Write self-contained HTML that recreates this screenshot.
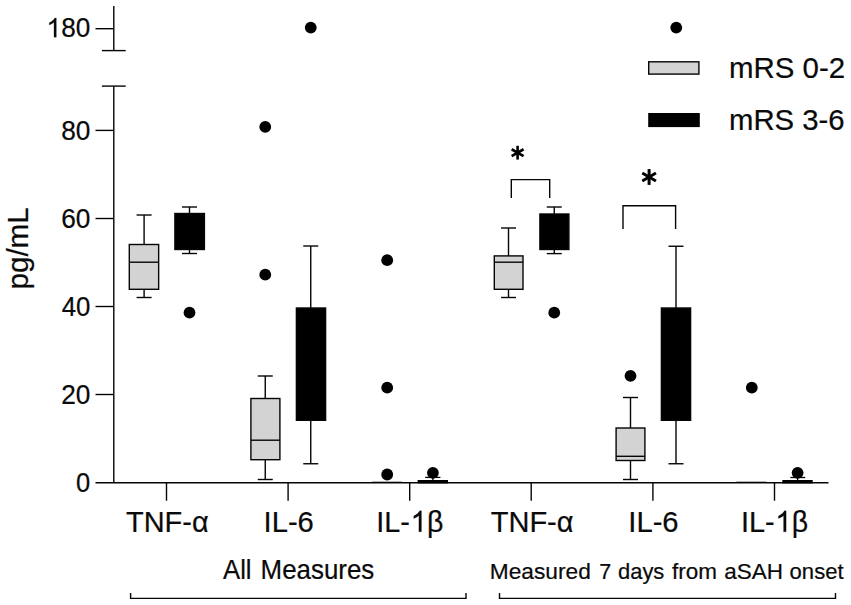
<!DOCTYPE html>
<html><head><meta charset="utf-8"><title>Boxplot</title>
<style>
html,body{margin:0;padding:0;background:#fff;}
svg{display:block;}
text{font-family:"Liberation Sans",sans-serif;fill:#0a0a0a;stroke:#0a0a0a;stroke-width:0.22px;}
</style></head>
<body>
<svg width="851" height="605" viewBox="0 0 851 605">
<rect width="851" height="605" fill="#fff"/>
<text transform="translate(61.25,37.2) scale(0.9517,1)" font-size="27.5">80</text>
<text transform="translate(61.24,139.9) scale(0.9552,1)" font-size="27.5">80</text>
<text transform="translate(61.24,227.9) scale(0.9552,1)" font-size="27.5">60</text>
<text transform="translate(61.75,315.7) scale(0.9383,1)" font-size="27.5">40</text>
<text transform="translate(61.24,403.9) scale(0.9552,1)" font-size="27.5">20</text>
<text transform="translate(75.97,491.7) scale(0.9286,1)" font-size="27.5">0</text>
<text transform="translate(126.00,531.8) scale(0.9558,1)" font-size="30.3">TNF-α</text>
<text transform="translate(263.57,531.8) scale(0.9633,1)" font-size="30.3">IL-6</text>
<text transform="translate(376.30,531.8) scale(0.9515,1)" font-size="30.3">IL-</text>
<text transform="translate(427.12,531.8) scale(0.9400,1)" font-size="30.3">β</text>
<text transform="translate(490.70,531.8) scale(0.9581,1)" font-size="30.3">TNF-α</text>
<text transform="translate(628.27,531.8) scale(0.9643,1)" font-size="30.3">IL-6</text>
<text transform="translate(741.00,531.8) scale(0.9515,1)" font-size="30.3">IL-</text>
<text transform="translate(791.82,531.8) scale(0.9400,1)" font-size="30.3">β</text>
<text transform="translate(728.99,78.4) scale(1.0080,1)" font-size="29.2">mRS 0-2</text>
<text transform="translate(729.00,130.0) scale(1.0035,1)" font-size="29.2">mRS 3-6</text>
<text transform="translate(223.00,579.0) scale(0.9517,1)" font-size="27.0">All</text>
<text transform="translate(260.58,579.0) scale(0.9595,1)" font-size="27.0">Measures</text>
<text transform="translate(489.80,579.0) scale(0.9970,1)" font-size="22.8">Measured</text>
<text transform="translate(599.15,579.0) scale(0.9455,1)" font-size="22.8">7</text>
<text transform="translate(618.00,579.0) scale(0.9625,1)" font-size="22.8">days</text>
<text transform="translate(672.10,579.0) scale(0.9867,1)" font-size="22.8">from</text>
<text transform="translate(724.35,579.0) scale(0.9871,1)" font-size="22.8">aSAH</text>
<text transform="translate(789.60,579.0) scale(0.9679,1)" font-size="22.8">onset</text>
<path transform="translate(46.37,37.2) scale(0.01304)" fill="#0a0a0a" stroke="#0a0a0a" stroke-width="16.9" d="M763,0H583V-1147Q518,-1085 412.5,-1023Q307,-961 223,-930V-1104Q374,-1175 487,-1276Q600,-1377 647,-1472H763Z"/>
<path transform="translate(410.57,531.8) scale(0.01426)" fill="#0a0a0a" stroke="#0a0a0a" stroke-width="15.4" d="M763,0H583V-1147Q518,-1085 412.5,-1023Q307,-961 223,-930V-1104Q374,-1175 487,-1276Q600,-1377 647,-1472H763Z"/>
<path transform="translate(775.27,531.8) scale(0.01426)" fill="#0a0a0a" stroke="#0a0a0a" stroke-width="15.4" d="M763,0H583V-1147Q518,-1085 412.5,-1023Q307,-961 223,-930V-1104Q374,-1175 487,-1276Q600,-1377 647,-1472H763Z"/>
<line x1="113.8" y1="6" x2="113.8" y2="50.6" stroke="#050505" stroke-width="1.4" stroke-linecap="butt"/>
<line x1="113.8" y1="86.1" x2="113.8" y2="482.8" stroke="#050505" stroke-width="1.4" stroke-linecap="butt"/>
<line x1="101.9" y1="50.6" x2="125.7" y2="50.6" stroke="#050505" stroke-width="1.4" stroke-linecap="butt"/>
<line x1="101.9" y1="86.1" x2="125.7" y2="86.1" stroke="#050505" stroke-width="1.4" stroke-linecap="butt"/>
<line x1="95.5" y1="28.7" x2="113.8" y2="28.7" stroke="#050505" stroke-width="1.4" stroke-linecap="butt"/>
<line x1="95.5" y1="130.4" x2="113.8" y2="130.4" stroke="#050505" stroke-width="1.4" stroke-linecap="butt"/>
<line x1="95.5" y1="218.5" x2="113.8" y2="218.5" stroke="#050505" stroke-width="1.4" stroke-linecap="butt"/>
<line x1="95.5" y1="306.5" x2="113.8" y2="306.5" stroke="#050505" stroke-width="1.4" stroke-linecap="butt"/>
<line x1="95.5" y1="394.5" x2="113.8" y2="394.5" stroke="#050505" stroke-width="1.4" stroke-linecap="butt"/>
<line x1="95.5" y1="482.8" x2="828.5" y2="482.8" stroke="#050505" stroke-width="1.4" stroke-linecap="butt"/>
<line x1="166.5" y1="482.8" x2="166.5" y2="500.7" stroke="#050505" stroke-width="1.4" stroke-linecap="butt"/>
<line x1="288.1" y1="482.8" x2="288.1" y2="500.7" stroke="#050505" stroke-width="1.4" stroke-linecap="butt"/>
<line x1="409.7" y1="482.8" x2="409.7" y2="500.7" stroke="#050505" stroke-width="1.4" stroke-linecap="butt"/>
<line x1="531.2" y1="482.8" x2="531.2" y2="500.7" stroke="#050505" stroke-width="1.4" stroke-linecap="butt"/>
<line x1="652.9" y1="482.8" x2="652.9" y2="500.7" stroke="#050505" stroke-width="1.4" stroke-linecap="butt"/>
<line x1="774.5" y1="482.8" x2="774.5" y2="500.7" stroke="#050505" stroke-width="1.4" stroke-linecap="butt"/>
<line x1="144.1" y1="215.0" x2="144.1" y2="244.5" stroke="#050505" stroke-width="1.4" stroke-linecap="butt"/>
<line x1="136.6" y1="215.0" x2="151.6" y2="215.0" stroke="#050505" stroke-width="1.4" stroke-linecap="butt"/>
<line x1="144.1" y1="289.3" x2="144.1" y2="297.5" stroke="#050505" stroke-width="1.4" stroke-linecap="butt"/>
<line x1="136.6" y1="297.5" x2="151.6" y2="297.5" stroke="#050505" stroke-width="1.4" stroke-linecap="butt"/>
<rect x="129.3" y="244.5" width="29.35" height="44.80" fill="#d3d3d3" stroke="#050505" stroke-width="1.4"/>
<line x1="129.3" y1="262.2" x2="158.65" y2="262.2" stroke="#050505" stroke-width="1.4" stroke-linecap="butt"/>
<line x1="189.5" y1="207.0" x2="189.5" y2="213.5" stroke="#050505" stroke-width="1.4" stroke-linecap="butt"/>
<line x1="182.0" y1="207.0" x2="197.0" y2="207.0" stroke="#050505" stroke-width="1.4" stroke-linecap="butt"/>
<line x1="189.5" y1="249.5" x2="189.5" y2="253.5" stroke="#050505" stroke-width="1.4" stroke-linecap="butt"/>
<line x1="182.0" y1="253.5" x2="197.0" y2="253.5" stroke="#050505" stroke-width="1.4" stroke-linecap="butt"/>
<rect x="174.9" y="213.5" width="29.50" height="36.00" fill="#000" stroke="#050505" stroke-width="1.4"/>
<circle cx="189.5" cy="312.7" r="5.9" fill="#000"/>
<line x1="265.25" y1="376.0" x2="265.25" y2="398.5" stroke="#050505" stroke-width="1.4" stroke-linecap="butt"/>
<line x1="257.75" y1="376.0" x2="272.75" y2="376.0" stroke="#050505" stroke-width="1.4" stroke-linecap="butt"/>
<line x1="265.25" y1="459.7" x2="265.25" y2="479.5" stroke="#050505" stroke-width="1.4" stroke-linecap="butt"/>
<line x1="257.75" y1="479.5" x2="272.75" y2="479.5" stroke="#050505" stroke-width="1.4" stroke-linecap="butt"/>
<rect x="250.9" y="398.5" width="29.00" height="61.20" fill="#d3d3d3" stroke="#050505" stroke-width="1.4"/>
<line x1="250.9" y1="440.2" x2="279.9" y2="440.2" stroke="#050505" stroke-width="1.4" stroke-linecap="butt"/>
<circle cx="265.25" cy="126.9" r="5.9" fill="#000"/>
<circle cx="265.25" cy="274.7" r="5.9" fill="#000"/>
<line x1="310.75" y1="246.0" x2="310.75" y2="308" stroke="#050505" stroke-width="1.4" stroke-linecap="butt"/>
<line x1="303.25" y1="246.0" x2="318.25" y2="246.0" stroke="#050505" stroke-width="1.4" stroke-linecap="butt"/>
<line x1="310.75" y1="420.3" x2="310.75" y2="463.75" stroke="#050505" stroke-width="1.4" stroke-linecap="butt"/>
<line x1="303.25" y1="463.75" x2="318.25" y2="463.75" stroke="#050505" stroke-width="1.4" stroke-linecap="butt"/>
<rect x="296.4" y="308" width="29.20" height="112.30" fill="#000" stroke="#050505" stroke-width="1.4"/>
<circle cx="310.75" cy="27.6" r="5.9" fill="#000"/>
<line x1="371.8" y1="482.3" x2="401.8" y2="482.3" stroke="#050505" stroke-width="1.2" stroke-linecap="butt"/>
<circle cx="387.2" cy="260.2" r="5.9" fill="#000"/>
<circle cx="387.2" cy="387.7" r="5.9" fill="#000"/>
<circle cx="387.2" cy="474.5" r="5.9" fill="#000"/>
<rect x="417.6" y="480.0" width="30.4" height="3.4" fill="#000"/>
<line x1="432.9" y1="477.4" x2="432.9" y2="480.5" stroke="#000" stroke-width="1.3" stroke-linecap="butt"/>
<line x1="425.2" y1="477.4" x2="440.4" y2="477.4" stroke="#000" stroke-width="1.3" stroke-linecap="butt"/>
<circle cx="432.9" cy="472.8" r="5.9" fill="#000"/>
<line x1="508.5" y1="228.0" x2="508.5" y2="255.9" stroke="#050505" stroke-width="1.4" stroke-linecap="butt"/>
<line x1="501.0" y1="228.0" x2="516.0" y2="228.0" stroke="#050505" stroke-width="1.4" stroke-linecap="butt"/>
<line x1="508.5" y1="289.3" x2="508.5" y2="297.5" stroke="#050505" stroke-width="1.4" stroke-linecap="butt"/>
<line x1="501.0" y1="297.5" x2="516.0" y2="297.5" stroke="#050505" stroke-width="1.4" stroke-linecap="butt"/>
<rect x="494.3" y="255.9" width="28.70" height="33.40" fill="#d3d3d3" stroke="#050505" stroke-width="1.4"/>
<line x1="494.3" y1="262.2" x2="523" y2="262.2" stroke="#050505" stroke-width="1.4" stroke-linecap="butt"/>
<line x1="554.25" y1="207.0" x2="554.25" y2="214.0" stroke="#050505" stroke-width="1.4" stroke-linecap="butt"/>
<line x1="546.75" y1="207.0" x2="561.75" y2="207.0" stroke="#050505" stroke-width="1.4" stroke-linecap="butt"/>
<line x1="554.25" y1="249.5" x2="554.25" y2="253.6" stroke="#050505" stroke-width="1.4" stroke-linecap="butt"/>
<line x1="546.75" y1="253.6" x2="561.75" y2="253.6" stroke="#050505" stroke-width="1.4" stroke-linecap="butt"/>
<rect x="539.9" y="214.0" width="29.00" height="35.50" fill="#000" stroke="#050505" stroke-width="1.4"/>
<circle cx="554.25" cy="312.7" r="5.9" fill="#000"/>
<line x1="630.5" y1="397.5" x2="630.5" y2="428.0" stroke="#050505" stroke-width="1.4" stroke-linecap="butt"/>
<line x1="623.0" y1="397.5" x2="638.0" y2="397.5" stroke="#050505" stroke-width="1.4" stroke-linecap="butt"/>
<line x1="630.5" y1="460.5" x2="630.5" y2="479.5" stroke="#050505" stroke-width="1.4" stroke-linecap="butt"/>
<line x1="623.0" y1="479.5" x2="638.0" y2="479.5" stroke="#050505" stroke-width="1.4" stroke-linecap="butt"/>
<rect x="616.1" y="428.0" width="28.80" height="32.50" fill="#d3d3d3" stroke="#050505" stroke-width="1.4"/>
<line x1="616.1" y1="456.3" x2="644.9" y2="456.3" stroke="#050505" stroke-width="1.4" stroke-linecap="butt"/>
<circle cx="630.5" cy="375.8" r="5.9" fill="#000"/>
<line x1="676" y1="246.25" x2="676" y2="308" stroke="#050505" stroke-width="1.4" stroke-linecap="butt"/>
<line x1="668.5" y1="246.25" x2="683.5" y2="246.25" stroke="#050505" stroke-width="1.4" stroke-linecap="butt"/>
<line x1="676" y1="420.3" x2="676" y2="463.75" stroke="#050505" stroke-width="1.4" stroke-linecap="butt"/>
<line x1="668.5" y1="463.75" x2="683.5" y2="463.75" stroke="#050505" stroke-width="1.4" stroke-linecap="butt"/>
<rect x="661.4" y="308" width="29.20" height="112.30" fill="#000" stroke="#050505" stroke-width="1.4"/>
<circle cx="676.25" cy="27.6" r="5.9" fill="#000"/>
<line x1="736.4" y1="482.3" x2="766.4" y2="482.3" stroke="#050505" stroke-width="1.2" stroke-linecap="butt"/>
<circle cx="751.8" cy="387.7" r="5.9" fill="#000"/>
<rect x="782.3" y="480.0" width="30.4" height="3.4" fill="#000"/>
<line x1="797.6" y1="477.5" x2="797.6" y2="480.5" stroke="#000" stroke-width="1.3" stroke-linecap="butt"/>
<line x1="790.3" y1="477.5" x2="805.2" y2="477.5" stroke="#000" stroke-width="1.3" stroke-linecap="butt"/>
<circle cx="797.6" cy="472.8" r="5.9" fill="#000"/>
<polyline points="511.3,197.9 511.3,179.6 549.7,179.6 549.7,197.9" fill="none" stroke="#050505" stroke-width="1.4"/>
<polyline points="623,229.0 623,205.8 675.6,205.8 675.6,229.0" fill="none" stroke="#050505" stroke-width="1.4"/>
<line x1="517.60" y1="145.80" x2="517.60" y2="159.60" stroke="#000" stroke-width="2.6"/>
<line x1="511.62" y1="149.25" x2="523.58" y2="156.15" stroke="#000" stroke-width="2.6"/>
<line x1="523.58" y1="149.25" x2="511.62" y2="156.15" stroke="#000" stroke-width="2.6"/>
<line x1="649.10" y1="169.10" x2="649.10" y2="184.90" stroke="#000" stroke-width="3.0"/>
<line x1="642.26" y1="173.05" x2="655.94" y2="180.95" stroke="#000" stroke-width="3.0"/>
<line x1="655.94" y1="173.05" x2="642.26" y2="180.95" stroke="#000" stroke-width="3.0"/>
<rect x="648.7" y="61.8" width="50.2" height="12.3" fill="#d3d3d3" stroke="#050505" stroke-width="1.4"/>
<rect x="648.2" y="113" width="51.6" height="14.1" fill="#000"/>
<polyline points="130.6,593 130.6,598.4 466,598.4 466,593" fill="none" stroke="#050505" stroke-width="1.4"/>
<polyline points="499.5,593 499.5,598.4 835.5,598.4 835.5,593" fill="none" stroke="#050505" stroke-width="1.4"/>
<text transform="translate(27.6,248.4) rotate(-90) scale(0.995,1)" font-size="29.8" text-anchor="middle">pg/mL</text>
</svg>
</body></html>
